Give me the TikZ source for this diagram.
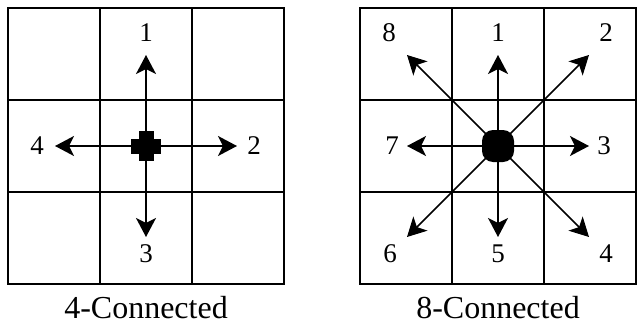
\documentclass[tikz,border=0pt]{standalone}
\usepackage{fontspec}
\setmainfont{Liberation Serif}
\usetikzlibrary{arrows.meta}

\begin{document}
\begin{tikzpicture}[
  x=1pt, y=1pt,
  gridline/.style={line width=1.5pt},
  ray/.style={-{Stealth[length=19pt, width=20pt, inset=5pt]}, line width=1.5pt},
  num/.style={font=\fontsize{27}{30}\selectfont, inner sep=0pt},
  caption/.style={font=\fontsize{32}{36}\selectfont, anchor=base, inner sep=0pt}
]
\useasboundingbox (0,0) rectangle (637,325);

% 4-connected grid
\draw[gridline] (8,41) rectangle (284,317);
\draw[gridline] (100,41) -- (100,317); \draw[gridline] (192,41) -- (192,317);
\draw[gridline] (8,133) -- (284,133);  \draw[gridline] (8,225) -- (284,225);

\coordinate (c4) at (146,179);
\coordinate (a1) at (146,270); \coordinate (a2) at (237,179);
\coordinate (a3) at (146,88);  \coordinate (a4) at (55,179);

\draw[ray] (c4)--(a1); \draw[ray] (c4)--(a2);
\draw[ray] (c4)--(a3); \draw[ray] (c4)--(a4);
\fill (138.5,164) rectangle (153.5,194);
\fill (131,171.5) rectangle (161,186.5);

\node[num] (l1) at (146,292.5) {1};
\node[num] (l2) at (254,179)   {2};
\node[num] (l3) at (146,71.5)  {3};
\node[num] (l4) at (37,179)    {4};
\node[caption] (cap4) at (146,7) {4-Connected};

% 8-connected grid
\draw[gridline] (360,41) rectangle (636,317);
\draw[gridline] (452,41) -- (452,317); \draw[gridline] (544,41) -- (544,317);
\draw[gridline] (360,133) -- (636,133); \draw[gridline] (360,225) -- (636,225);

\coordinate (c8) at (498,179);
\coordinate (b1) at (498,270); \coordinate (b2) at (589,270);
\coordinate (b3) at (589,179); \coordinate (b4) at (589,88);
\coordinate (b5) at (498,88);  \coordinate (b6) at (407,88);
\coordinate (b7) at (407,179); \coordinate (b8) at (407,270);

\draw[ray] (c8)--(b1); \draw[ray] (c8)--(b2);
\draw[ray] (c8)--(b3); \draw[ray] (c8)--(b4);
\draw[ray] (c8)--(b5); \draw[ray] (c8)--(b6);
\draw[ray] (c8)--(b7); \draw[ray] (c8)--(b8);
\fill[rounded corners=11pt] (482,163) rectangle (514,195);

\node[num] (m1) at (498,292.5) {1};
\node[num] (m2) at (606,292.5) {2};
\node[num] (m3) at (604,179)   {3};
\node[num] (m4) at (606,71.5)  {4};
\node[num] (m5) at (498,71.5)  {5};
\node[num] (m6) at (390,71.5)  {6};
\node[num] (m7) at (392,179)   {7};
\node[num] (m8) at (389,292.5) {8};
\node[caption] (cap8) at (498,7) {8-Connected};
\end{tikzpicture}
\end{document}
